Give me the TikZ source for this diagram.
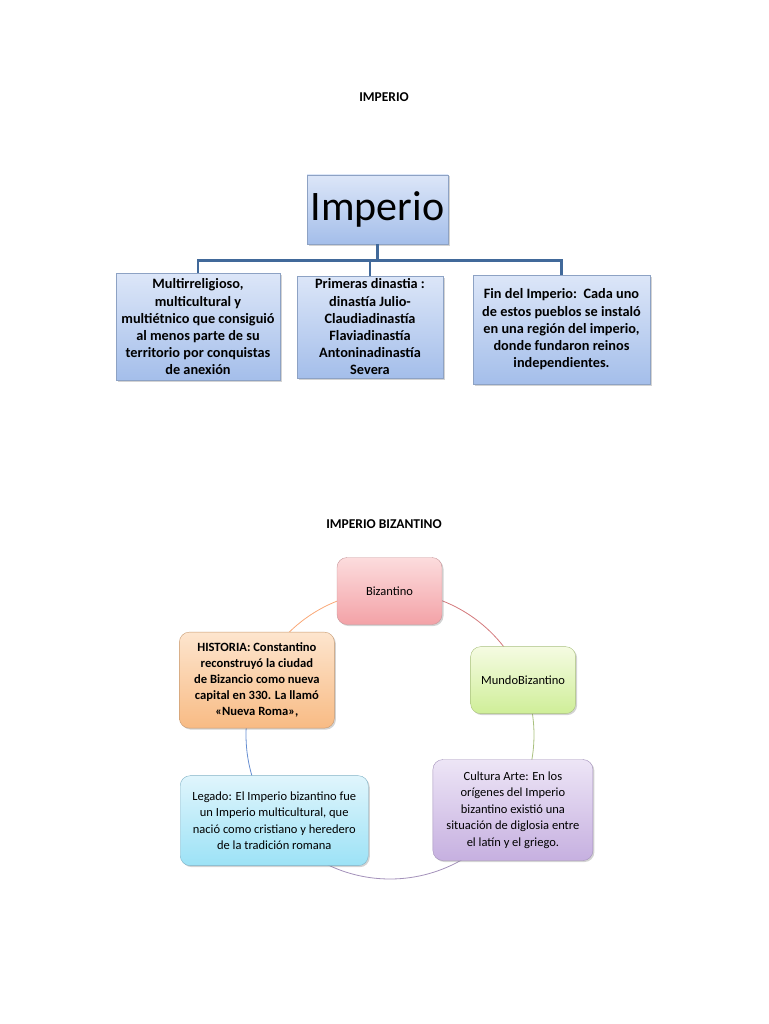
\documentclass[tikz,border=0pt]{standalone}
\usepackage{fontspec}
\setmainfont{Carlito}
\usetikzlibrary{shadows,backgrounds}

\definecolor{bluetop}{HTML}{DCE6F8}
\definecolor{bluebot}{HTML}{A4BEEA}
\definecolor{blueline}{HTML}{8DA2C4}
\definecolor{busblue}{HTML}{41699A}
\definecolor{pinktop}{HTML}{FCDCDD}
\definecolor{pinkbot}{HTML}{F3A2A7}
\definecolor{pinkline}{HTML}{C8969A}
\definecolor{greentop}{HTML}{F5FBE2}
\definecolor{greenbot}{HTML}{CFEE98}
\definecolor{greenline}{HTML}{A9C07E}
\definecolor{lilatop}{HTML}{EDE5F6}
\definecolor{lilabot}{HTML}{C6B0E0}
\definecolor{lilaline}{HTML}{A391BA}
\definecolor{cyantop}{HTML}{E0F5FC}
\definecolor{cyanbot}{HTML}{9CE2F6}
\definecolor{cyanline}{HTML}{7FB2C6}
\definecolor{orangetop}{HTML}{FDE5CE}
\definecolor{orangebot}{HTML}{F8BB84}
\definecolor{orangeline}{HTML}{C89A70}

\begin{document}
\begin{tikzpicture}[
    x=1pt, y=-1pt,
    title/.style={font=\bfseries\fontsize{13.5}{16}\selectfont},
    block/.style={rectangle, draw=blueline, top color=bluetop, bottom color=bluebot,
        drop shadow={opacity=0.35, shadow xshift=1.5pt, shadow yshift=-1.5pt},
        align=center, inner sep=2pt, font=\bfseries\fontsize{14.3}{17.2}\selectfont},
    bus/.style={draw=busblue, line width=2.6pt},
    cycbox/.style={rectangle, rounded corners=10pt, align=center, inner sep=3pt,
        drop shadow={opacity=0.35, shadow xshift=1.5pt, shadow yshift=-1.5pt},
        font=\fontsize{12.5}{16.5}\selectfont},
    cycline/.style={line width=0.8pt}
]
    \useasboundingbox (0,0) rectangle (768,1024);

    % Imperio
    \node[title] (t1) at (384,97) {IMPERIO};
    \node[block, minimum width=141pt, minimum height=69pt, font=\fontsize{42}{48}\selectfont] (imp) at (377.5,209.5) {Imperio};
    \node[block, minimum width=164pt, minimum height=107pt] (multi) at (198,327) {Multirreligioso,\\multicultural y\\multiétnico que consiguió\\al menos parte de su\\territorio por conquistas\\de anexión};
    \node[block, minimum width=146pt, minimum height=102pt] (dinas) at (370,327) {Primeras dinastia :\\dinastía Julio-\\Claudiadinastía\\Flaviadinastía\\Antoninadinastía\\Severa};
    \node[block, minimum width=177pt, minimum height=109pt] (fin) at (561.5,329.5) {Fin del Imperio:\ \ Cada uno\\de estos pueblos se instaló\\en una región del imperio,\\donde fundaron reinos\\independientes.};

    \draw[bus] (imp.south) -- ++(0,16) -| (multi.north);
    \draw[bus] (imp.south) -- ++(0,16) -| (dinas.north);
    \draw[bus] (imp.south) -- ++(0,16) -| (fin.north);

    % Imperio bizantino
    \node[title] (t2) at (384,524) {IMPERIO BIZANTINO};
    \coordinate (ring) at (390,735);
    \path (ring) ++(-90.2:144) node[cycbox, draw=pinkline, top color=pinktop, bottom color=pinkbot, minimum width=105pt, minimum height=67pt] (biz) {Bizantino};
    \path (ring) ++(-22.4:144) node[cycbox, draw=greenline, top color=greentop, bottom color=greenbot, minimum width=105pt, minimum height=67pt] (mundo) {MundoBizantino};
    \path (ring) ++(31.4:144) node[cycbox, draw=lilaline, top color=lilatop, bottom color=lilabot, minimum width=160pt, minimum height=101pt] (cultura) {Cultura Arte: En los\\orígenes del Imperio\\bizantino existió una\\situación de diglosia entre\\el latín y el griego.};
    \path (ring) ++(143.5:144) node[cycbox, draw=cyanline, top color=cyantop, bottom color=cyanbot, minimum width=188pt, minimum height=90pt] (legado) {Legado: El Imperio bizantino fue\\un Imperio multicultural, que\\nació como cristiano y heredero\\de la tradición romana};
    \path (ring) ++(202.4:144) node[cycbox, draw=orangeline, top color=orangetop, bottom color=orangebot, minimum width=155pt, minimum height=96pt, font=\bfseries\fontsize{12.6}{15.9}\selectfont] (hist) {HISTORIA: Constantino\\reconstruyó la ciudad\\de Bizancio como nueva\\capital en 330. La llamó\\«Nueva Roma»,};

    \begin{scope}[on background layer]
        \draw[cycline, draw=pinkline!80!red] (biz.center) arc[start angle=-90.2, end angle=-22.4, radius=144];
        \draw[cycline, draw=greenline] (mundo.center) arc[start angle=-22.4, end angle=31.4, radius=144];
        \draw[cycline, draw=lilaline] (cultura.center) arc[start angle=31.4, end angle=143.5, radius=144];
        \draw[cycline, draw=cyanline!80!blue] (legado.center) arc[start angle=143.5, end angle=202.4, radius=144];
        \draw[cycline, draw=orangebot!90!red] (hist.center) arc[start angle=202.4, end angle=269.8, radius=144];
    \end{scope}
\end{tikzpicture}
\end{document}
